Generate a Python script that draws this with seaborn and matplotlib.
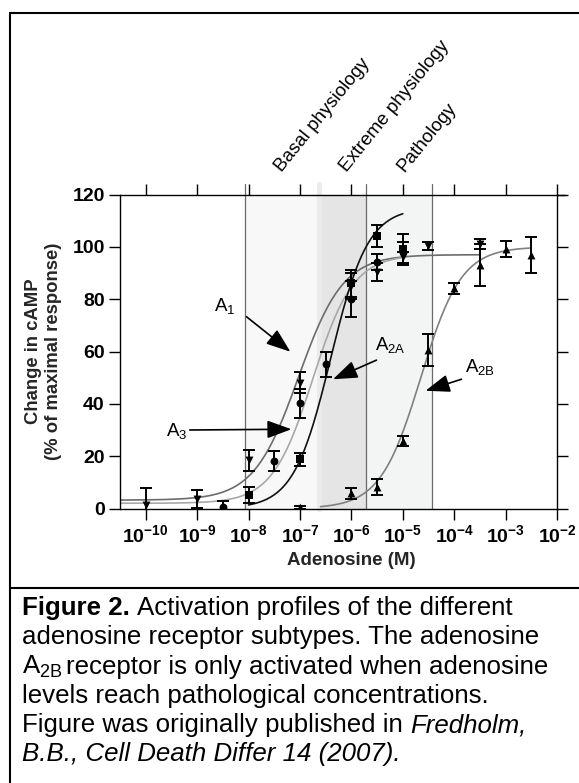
import matplotlib

matplotlib.use("Agg")

import matplotlib.pyplot as plt
import numpy as np
import seaborn as sns
from matplotlib.lines import Line2D
from matplotlib.ticker import FixedLocator, NullLocator


# measured points (concentration in M, % of maximal cAMP response, error)
conc_a1 = [1e-10, 1e-9, 1e-8, 1e-7, 1e-6, 3.16e-6, 1e-5, 3.16e-5, 3.16e-4]
resp_a1 = [1.5, 3.6, 18.5, 48, 85, 90.5, 96, 100.4, 101]
err_a1 = [6.5, 3.4, 4, 4, 5, 3.5, 2, 1.5, 2]

conc_a3 = [3.16e-9, 3.16e-8, 1e-7, 3.16e-7, 1e-6, 3.16e-6, 1e-5]
resp_a3 = [0.5, 18.3, 40.2, 55.2, 80, 94.3, 98]
err_a3 = [2.5, 3.8, 5.6, 4.8, 7, 3, 4]

conc_a2a = [1e-8, 1e-7, 1e-6, 3.16e-6, 1e-5]
resp_a2a = [5.2, 18.9, 86, 104.2, 99]
err_a2a = [3, 2.5, 5, 4.2, 6]

conc_a2b = [1e-7, 1e-6, 3.16e-6, 1e-5, 3.16e-5, 1e-4, 3.16e-4, 1e-3, 3.16e-3]
resp_a2b = [0.5, 5.8, 8.1, 25.8, 60.6, 84.1, 93, 99.2, 96.9]
err_a2b = [0.6, 2, 3, 2, 6, 2, 8, 3, 7]

# fitted dose-response curves: log EC50, hill slope, bottom, top, log range drawn
fit_names = ["A1", "A3", "A2A", "A2B"]
fit_log_ec50 = [-7.03, -6.75, -6.4, -4.65]
fit_hill = [1.0, 1.1, 1.2, 1.1]
fit_bottom = [3.2, 2.0, 0.0, 0.0]
fit_top = [97, 97, 115, 100]
fit_range = [(-10.5, -3.5), (-10.5, -5.0), (-8.0, -5.0), (-6.6, -2.5)]

# concentration ranges (log M)
basal_range = (-8.07, -6.66)
extreme_range = (-6.61, -5.72)
pathology_range = (-5.72, -4.44)
range_labels = ["Basal physiology", "Extreme physiology", "Pathology"]

x_ticks = [1e-10, 1e-9, 1e-8, 1e-7, 1e-6, 1e-5, 1e-4, 1e-3, 1e-2]
x_ticklabels = [r"$\mathbf{10^{%d}}$" % e for e in range(-10, -1)]
y_ticks = [0, 20, 40, 60, 80, 100, 120]

# caption: each line is a list of (text, style) pieces
caption_lines = [
    [("Figure 2.", "bold"), ("Activation profiles of the different", "normal")],
    [("adenosine receptor subtypes. The adenosine", "normal")],
    [(r"A$_{\mathrm{2B}}$", "normal"), ("receptor is only activated when adenosine", "normal")],
    [("levels reach pathological concentrations.", "normal")],
    [("Figure was originally published in", "normal"), ("Fredholm,", "italic")],
    [("B.B., Cell Death Differ 14 (2007).", "italic")],
]


def sigmoid_curve(i):
    lo, hi = fit_range[i]
    lx = np.linspace(lo, hi, 200)
    y = fit_bottom[i] + (fit_top[i] - fit_bottom[i]) / (1 + 10 ** ((fit_log_ec50[i] - lx) * fit_hill[i]))
    return 10 ** lx, y


sns.set_theme(style="ticks")
plt.rcParams.update(
    {
        "font.family": ["Liberation Sans", "DejaVu Sans"],
        "mathtext.fontset": "custom",
        "mathtext.rm": "Liberation Sans",
        "mathtext.sf": "Liberation Sans",
        "mathtext.bf": "Liberation Sans:bold",
        "mathtext.it": "Liberation Sans:italic",
        "axes.edgecolor": "black",
        "axes.linewidth": 1.0,
        "text.color": "black",
        "figure.facecolor": "white",
        "axes.facecolor": "white",
    }
)

fig = plt.figure(figsize=(5.79, 7.83), dpi=100)
ax = fig.add_axes([0.20725, 0.35057, 0.75475, 0.40102])
ax.set_xscale("log")

# shaded concentration bands
ax.axvspan(10 ** basal_range[0], 10 ** basal_range[1], color="#f8f8f8", lw=0, zorder=0)
ax.axvspan(10 ** basal_range[1], 10 ** extreme_range[0], color="#ececec", lw=0, zorder=0)
ax.axvspan(10 ** extreme_range[0], 10 ** extreme_range[1], color="#e5e5e5", lw=0, zorder=0)
ax.axvspan(10 ** pathology_range[0], 10 ** pathology_range[1], color="#f3f5f5", lw=0, zorder=0)
for v in [basal_range[0], extreme_range[1], pathology_range[1]]:
    ax.axvline(10 ** v, ymin=0, ymax=1.035, color="#6a6a6a", lw=0.9, clip_on=False, zorder=1)
ax.axvline(10 ** -6.635, ymin=0, ymax=1.035, color="#ebebeb", lw=3.5, clip_on=False, zorder=0.5)

# fitted curves
curve_colors = ["#6c6c6c", "#a8a8a8", "#111111", "#808080"]
for i in range(len(fit_names)):
    cx, cy = sigmoid_curve(i)
    sns.lineplot(x=cx, y=cy, color=curve_colors[i], linewidth=1.2, ax=ax, zorder=2)

# data points with error bars
series = [
    (conc_a1, resp_a1, err_a1, "v"),
    (conc_a3, resp_a3, err_a3, "o"),
    (conc_a2a, resp_a2a, err_a2a, "s"),
    (conc_a2b, resp_a2b, err_a2b, "^"),
]
for conc, resp, err, mk in series:
    ax.errorbar(conc, resp, yerr=err, fmt="none", ecolor="black", elinewidth=1.4,
                capsize=4.5, capthick=1.4, zorder=3)
    sns.scatterplot(x=conc, y=resp, marker=mk, color="black", s=32, linewidth=0, ax=ax, zorder=4)

ax.set_xlim(10 ** -10.5, 1e-2)
ax.set_ylim(0, 120)
ax.xaxis.set_major_locator(FixedLocator(x_ticks))
ax.xaxis.set_minor_locator(NullLocator())
ax.set_xticklabels(x_ticklabels)
ax.set_yticks(y_ticks)
ax.set_yticklabels([str(t) for t in y_ticks], fontweight="bold")
ax.tick_params(axis="both", which="major", direction="out", length=8, width=1.0,
               labelsize=14, pad=3, top=True, right=True, colors="black")
for s in ax.spines.values():
    s.set_visible(True)
    s.set_linewidth(1.0)
# top spine runs a little past the right-hand axis
ax.add_line(Line2D([1, 1.018], [1, 1], transform=ax.transAxes, color="black", lw=1.0, clip_on=False))

ax.set_xlabel("Adenosine (M)", fontsize=13.5, fontweight="bold")
ax.xaxis.set_label_coords(0.529, -0.137)
ax.set_ylabel("Change in cAMP\n(% of maximal response)", fontsize=13.3, fontweight="bold", linespacing=1.25)
ax.yaxis.set_label_coords(-0.133, 0.5)

# range labels above the plot
xform = ax.get_xaxis_transform()
for lbl, lx in zip(range_labels, [-7.36, -6.095, -4.961]):
    ax.text(10 ** lx, 1.069, lbl, transform=xform, rotation=51, rotation_mode="anchor",
            ha="left", va="baseline", fontsize=13.5, clip_on=False)

# receptor labels and arrows
arrow = dict(arrowstyle="-|>,head_length=1.5,head_width=0.55", color="black", lw=1.2,
             shrinkA=0, shrinkB=0, mutation_scale=10)
ax.text(10 ** -8.46, 77.4, r"A$_1$", fontsize=13.5, ha="center", va="center")
ax.annotate("", xy=(10 ** -7.185, 59.9), xytext=(10 ** -8.04, 73.3), arrowprops=arrow)
ax.text(10 ** -9.40, 29.6, r"A$_3$", fontsize=13.5, ha="center", va="center")
ax.annotate("", xy=(10 ** -7.165, 30.3), xytext=(10 ** -9.144, 30.0), arrowprops=arrow)
ax.text(10 ** -5.25, 62.5, r"A$_{\mathrm{2A}}$", fontsize=13.5, ha="center", va="center")
ax.annotate("", xy=(10 ** -6.356, 49.4), xytext=(10 ** -5.512, 56.7), arrowprops=arrow)
ax.text(10 ** -3.50, 54.1, r"A$_{\mathrm{2B}}$", fontsize=13.5, ha="center", va="center")
ax.annotate("", xy=(10 ** -4.558, 45.0), xytext=(10 ** -3.858, 49.4), arrowprops=arrow)

# outer frame and caption divider
W, H = 579.0, 783.0
frame_kw = dict(color="black", lw=1.5, transform=fig.transFigure)
fig.add_artist(Line2D([9.5 / W, 9.5 / W], [0, (H - 13) / H], **frame_kw))
fig.add_artist(Line2D([9.5 / W, 1.0], [(H - 13) / H, (H - 13) / H], **frame_kw))
fig.add_artist(Line2D([9.5 / W, 1.0], [(H - 588) / H, (H - 588) / H], **frame_kw))

renderer = fig.canvas.get_renderer()
cap_size = 18.6


def text_width(s, style):
    kw = {"fontweight": "bold"} if style == "bold" else {"fontstyle": style}
    t = fig.text(0, 0, s, fontsize=cap_size, **kw)
    w = t.get_window_extent(renderer).width
    t.remove()
    return w, kw


space_w = text_width("x x", "normal")[0] - text_width("xx", "normal")[0]
for k, pieces in enumerate(caption_lines):
    base = 615 + 29.3 * k
    x = 22.0
    for j, (s, style) in enumerate(pieces):
        w, kw = text_width(s, style)
        fig.text(x / W, (H - base) / H, s, fontsize=cap_size, ha="left", va="baseline", **kw)
        x += w + (space_w * (0.45 if s.startswith("A$") else 1.0))

fig.savefig("out.png", dpi=100, facecolor="white")
